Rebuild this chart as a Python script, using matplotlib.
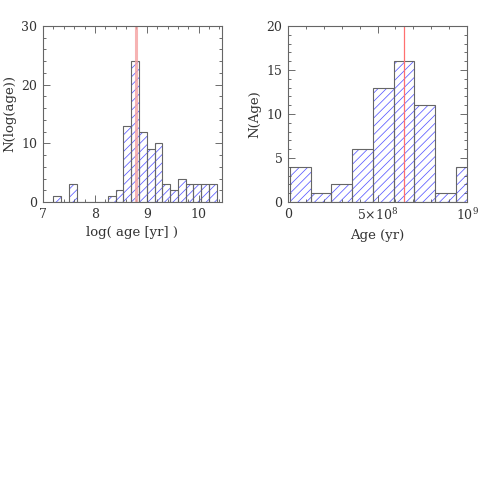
import numpy as np
import matplotlib
matplotlib.use("Agg")
import matplotlib.pyplot as plt
from matplotlib.ticker import MultipleLocator, FixedLocator

# left panel: log(age) histogram, bins of 0.15 dex starting at 7.2
logage_start = 7.2
logage_width = 0.15
logage_counts = [1, 0, 3, 0, 0, 0, 0, 1, 2, 13, 24, 12, 9, 10, 3, 2, 4, 3, 3, 3, 3]
logage_mark = 8.79

# right panel: linear age histogram (yr)
age_start = 0.012e9
age_width = 0.1155e9
age_counts = [4, 1, 2, 6, 13, 16, 11, 1, 4]
age_mark = 6.49e8

plt.rcParams['font.family'] = ['DejaVu Serif']
plt.rcParams['mathtext.fontset'] = 'dejavuserif'
plt.rcParams['font.size'] = 9
plt.rcParams['axes.labelsize'] = 9.5
plt.rcParams['hatch.linewidth'] = 0.55

fig = plt.figure(figsize=(4.91, 4.91), dpi=100)
W, H = 491.0, 491.0
ax1 = fig.add_axes([43 / W, 1 - 202 / H, 179 / W, 176 / H])
ax2 = fig.add_axes([288 / W, 1 - 202 / H, 179 / W, 176 / H])


def hatched_hist(ax, start, width, counts):
    lefts = start + width * np.arange(len(counts))
    ax.bar(lefts, counts, width=width, align='edge', color='none',
           edgecolor='#5a5aff', hatch='////', linewidth=0)
    ax.bar(lefts, counts, width=width, align='edge', color='none',
           edgecolor='#666666', linewidth=0.8)


def style(ax):
    ax.tick_params(which='both', direction='in', top=True, right=True,
                   colors='#555555', labelcolor='#333333', pad=4)
    ax.tick_params(which='major', length=5, width=0.6)
    ax.tick_params(which='minor', length=2.5, width=0.6)
    for s in ax.spines.values():
        s.set_color('#666666')
        s.set_linewidth(0.8)
    ax.xaxis.label.set_color('#333333')
    ax.yaxis.label.set_color('#333333')


hatched_hist(ax1, logage_start, logage_width, logage_counts)
ax1.axvline(logage_mark, color='#f4a0a0', alpha=0.8, linewidth=2.2)
ax1.set_xlim(7, 10.45)
ax1.set_ylim(0, 30)
ax1.xaxis.set_major_locator(MultipleLocator(1))
ax1.xaxis.set_minor_locator(MultipleLocator(0.2))
ax1.yaxis.set_major_locator(MultipleLocator(10))
ax1.yaxis.set_minor_locator(MultipleLocator(2))
ax1.set_xlabel("log( age [yr] )")
ax1.set_ylabel("N(log(age))")
style(ax1)

hatched_hist(ax2, age_start, age_width, age_counts)
ax2.axvline(age_mark, color='#ff7070', linewidth=0.9)
ax2.set_xlim(0, 1e9)
ax2.set_ylim(0, 20)
ax2.xaxis.set_major_locator(FixedLocator([0, 5e8, 1e9]))
ax2.set_xticklabels(["0", r"5$\times$10$^{8}$", r"10$^{9}$"])
ax2.xaxis.set_minor_locator(MultipleLocator(1e8))
ax2.yaxis.set_major_locator(MultipleLocator(5))
ax2.yaxis.set_minor_locator(MultipleLocator(1))
ax2.set_xlabel("Age (yr)")
ax2.set_ylabel("N(Age)")
style(ax2)

fig.savefig("out.png", dpi=100)
